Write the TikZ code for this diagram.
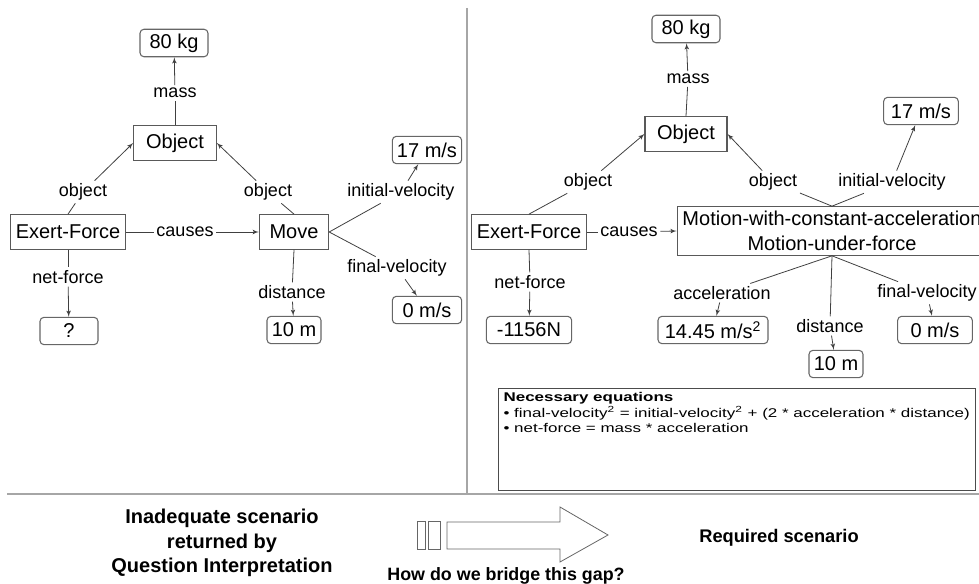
\documentclass[tikz,border=0pt]{standalone}
\usepackage{fontspec}
\setmainfont{Liberation Sans}
\usetikzlibrary{arrows,calc}
\tikzset{>=latex'}
\tikzstyle{concept}=[
	 rectangle, draw=black!65, line width=0.8pt,
	 font=\fontsize{15}{18.75}\selectfont,
	 inner xsep=4pt, minimum height=26pt
    ]
\tikzstyle{value}=[
	 rectangle, rounded corners=3pt, draw=black!60, line width=0.8pt,
	 font=\fontsize{15}{18}\selectfont,
	 inner xsep=3pt, minimum height=20.5pt
    ]
\tikzstyle{rel}=[font=\fontsize{13.5}{16}\selectfont, inner sep=2pt]
\tikzstyle{link}=[draw=black!75, line width=0.6pt]
\tikzstyle{divider}=[draw=black!35, line width=2.2pt]
\tikzstyle{caption}=[font=\bfseries\fontsize{15}{18.5}\selectfont, align=center]
\newcommand{\cLink}[3]{\draw[link] (#1) -- (#2); \draw[link,->] (#2) -- (#3)}

\begin{document}
\begin{tikzpicture}[x=0.75pt,y=-0.75pt]
\useasboundingbox (0,0) rectangle (979,584);
\clip (0,0) rectangle (979,584);

% inadequate scenario
\node[concept,minimum width=62pt] (obj1) at (175,143) {Object};
\node[value,minimum width=51pt] (kg1) at (174,43) {80 kg};
\node[concept] (ef1) at (68,232) {Exert-Force};
\node[concept,minimum width=52pt] (mv1) at (294,232) {Move};
\node[value,minimum width=52pt] (vi1) at (427,150) {17 m/s};
\node[value,minimum width=52pt] (vf1) at (427,310) {0 m/s};
\node[value,minimum width=40.5pt] (d1) at (294,330) {10 m};
\node[value,minimum width=43.5pt] (q1) at (69,331) {?};

\node[rel] (mass1) at (175,93) {mass};
\node[rel] (ob1) at (83,192) {object};
\node[rel] (ob2) at (268,192) {object};
\node[rel] (cs1) at (185,232) {causes};
\node[rel] (iv1) at (401,192) {initial-velocity};
\node[rel] (fv1) at (397,268) {final-velocity};
\node[rel] (dist1) at (292,292) {distance};
\node[rel] (nf1) at (68,277) {net-force};

\cLink{obj1.north}{mass1}{kg1};
\cLink{ef1.north}{ob1}{obj1.west};
\cLink{mv1.north}{ob2}{obj1.east};
\cLink{ef1.east}{cs1}{mv1.west};
\cLink{mv1.east}{iv1}{vi1};
\cLink{mv1.east}{fv1}{vf1};
\cLink{mv1.south}{dist1}{d1};
\cLink{ef1.south}{nf1}{q1};

% required scenario
\node[concept,minimum width=61.5pt] (obj2) at (686,134) {Object};
\node[value,minimum width=51pt] (kg2) at (686,29) {80 kg};
\node[concept] (ef2) at (529,232) {Exert-Force};
\node[concept,align=center,minimum height=36pt] (mot) at (832,231)
  {Motion-with-constant-acceleration\\Motion-under-force};
\node[value,minimum width=56pt] (vi2) at (921,111) {17 m/s};
\node[value,minimum width=64pt] (n2) at (529,330) {-1156N};
\node[value,minimum width=82.5pt] (a2) at (713,330) {14.45 m/s\textsuperscript{2}};
\node[value,minimum width=40.5pt] (d2) at (836,364) {10 m};
\node[value,minimum width=56pt] (vf2) at (935,330) {0 m/s};

\node[rel] (mass2) at (688,79) {mass};
\node[rel] (ob3) at (588,182) {object};
\node[rel] (ob4) at (773,182) {object};
\node[rel] (iv2) at (892,182) {initial-velocity};
\node[rel] (cs2) at (629,232) {causes};
\node[rel] (nf2) at (530,282) {net-force};
\node[rel] (ac2) at (722,293) {acceleration};
\node[rel] (dist2) at (830,326) {distance};
\node[rel] (fv2) at (927,293) {final-velocity};

\cLink{obj2.north}{mass2}{kg2};
\cLink{ef2.north}{ob3}{obj2.west};
\cLink{mot.north}{ob4}{obj2.east};
\cLink{mot.north}{iv2}{vi2};
\cLink{ef2.east}{cs2}{mot.west};
\cLink{ef2.south}{nf2}{n2};
\cLink{mot.south}{ac2}{a2};
\cLink{mot.south}{dist2}{d2};
\cLink{mot.south}{fv2}{vf2};

\node[draw=black!70,line width=0.8pt,anchor=north west,
  minimum width=358pt,minimum height=76.5pt] (eq) at (498,388) {};
\node[anchor=north west,inner sep=0pt,font=\fontsize{9.5}{11}\selectfont]
  (eqtext) at ([xshift=4pt,yshift=-2.5pt]eq.north west)
  {\scalebox{1.34}[1]{\begin{tabular}{@{}l@{}}
  \textbf{Necessary equations}\\
  • final-velocity\textsuperscript{2} = initial-velocity\textsuperscript{2} + (2 * acceleration * distance)\\
  • net-force = mass * acceleration
  \end{tabular}}};

% panels
\draw[divider] (467,8) -- (467,494);
\draw[divider] (7,494) -- (979,494);

% gap
\node[caption] (inad) at (222,543) {Inadequate scenario\\returned by\\Question Interpretation};
\node[caption] (req) at (779,538) {\fontsize{13.7}{16}\selectfont Required scenario};
\node[caption] (gap) at (506,576) {\fontsize{13.4}{16}\selectfont How do we bridge this gap?};
\draw[draw=black!60,line width=0.6pt] (417,521) rectangle (425,549);
\draw[draw=black!60,line width=0.6pt] (428,521) rectangle (440,549);
\draw[draw=black!60,line width=0.6pt] (447,522) -- (560,522) -- (560,507) -- (608,535)
  -- (560,562) -- (560,549) -- (447,549) -- cycle;

\end{tikzpicture}
\end{document}
